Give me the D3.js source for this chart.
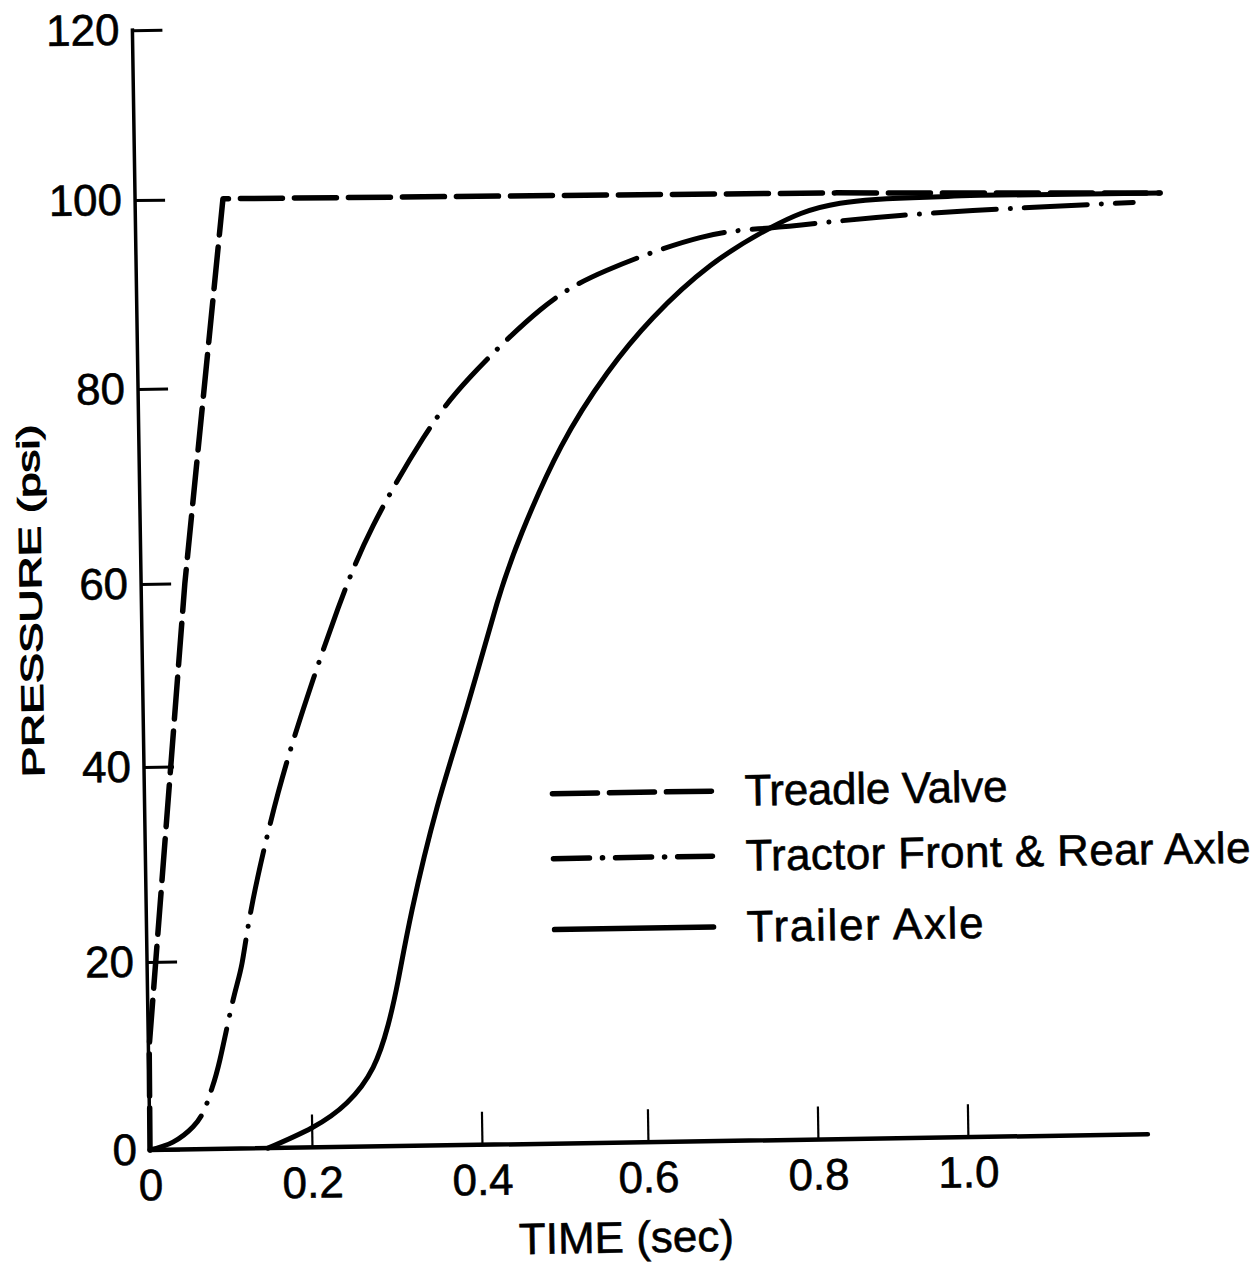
<!DOCTYPE html>
<html>
<head>
<meta charset="utf-8">
<script src="https://cdn.jsdelivr.net/npm/d3@7"></script>
<style>
  html, body { margin: 0; padding: 0; background: #fff; }
  svg { display: block; }
</style>
</head>
<body>
<svg id="chart" width="1260" height="1263"></svg>
<script>
// Air-brake pressure build-up after a treadle application

// Axis ticks
const timeTicks = [0, 0.2, 0.4, 0.6, 0.8, 1.0];
const timeTickLabels = ["0", "0.2", "0.4", "0.6", "0.8", "1.0"];
const pressureTicks = [0, 20, 40, 60, 80, 100, 120];
const pressureTickLabels = ["0", "20", "40", "60", "80", "100", "120"];
const timeAxisEnd = 1.24;

// Series (time in sec, pressure in psi)
const seriesNames = ["Treadle Valve", "Tractor Front & Rear Axle", "Trailer Axle"];

const treadleTime = [0, 0.001, 0.054, 0.1085, 0.845, 1.276];
const treadlePsi  = [0, 11, 60, 100, 99.6, 99.05];

const tractorTime = [0, 0.0285, 0.0536, 0.0662, 0.0726, 0.0778, 0.0881, 0.1054, 0.1172, 0.132,
                     0.165, 0.2025, 0.2406, 0.2833, 0.3438, 0.4001, 0.4858, 0.5672, 0.678, 0.7606,
                     0.8448, 0.929, 1.026, 1.129, 1.24];
const tractorPsi  = [0, 0.8, 2.4, 3.9, 5.2, 6.5, 9.5, 15.8, 19.7, 26.2,
                     37.1, 47.3, 57.0, 65.6, 74.5, 80.7, 87.7, 91.8, 95.1, 96.0,
                     96.6, 97.1, 97.5, 97.8, 98.1];

const trailerTime = [0.1457, 0.2004, 0.242, 0.2733, 0.2918, 0.3044, 0.3221, 0.3534, 0.3906, 0.4284,
                     0.4599, 0.5084, 0.5653, 0.6212, 0.6893, 0.7606, 0.8492, 0.9733, 1.036, 1.276];
const trailerPsi  = [0, 2.1, 4.7, 8.4, 12.9, 17.6, 24.9, 35.4, 46.0, 57.3,
                     64.7, 73.4, 80.9, 86.7, 92.1, 96.0, 98.5, 99.0, 99.1, 99.05];

// ---- layout ----
const FONT = "'Liberation Sans', Arial, sans-serif";
const originX = 150, originY = 1150;
const tilt = -0.9;   // the whole plate sits slightly rotated

// hand-lettered tick spacing is slightly uneven, so the scales are piecewise
const x = d3.scaleLinear()
  .domain(timeTicks)
  .range([0, 162, 332, 498, 668, 818].map(d => originX + d));
const y = d3.scaleLinear()
  .domain(pressureTicks)
  .range([0, 188, 383, 566, 761, 950, 1120].map(d => originY - d));

const svg = d3.select("#chart");
svg.append("rect").attr("width", 1260).attr("height", 1263).attr("fill", "#fff");

const plot = svg.append("g")
  .attr("transform", `rotate(${tilt} ${originX} ${originY})`);

// ---- axes ----
const xAxis = d3.axisBottom(x)
  .tickValues(timeTicks)
  .tickFormat((d, i) => timeTickLabels[i])
  .tickSizeInner(-33)
  .tickSizeOuter(0)
  .tickPadding(19);
const gx = plot.append("g")
  .attr("transform", `translate(0,${originY})`)
  .call(xAxis);
gx.select(".domain").remove();
gx.selectAll(".tick line").attr("stroke", "#000").attr("stroke-width", 2.2);
gx.selectAll(".tick text")
  .attr("fill", "#000").attr("font-size", 44).attr("font-family", FONT)
  .attr("stroke", "#000").attr("stroke-width", 0.6);

const yAxis = d3.axisLeft(y)
  .tickValues(pressureTicks)
  .tickFormat((d, i) => pressureTickLabels[i])
  .tickSizeInner(-30)
  .tickSizeOuter(0)
  .tickPadding(13);
const gy = plot.append("g")
  .attr("transform", `translate(${originX},0)`)
  .call(yAxis);
gy.select(".domain").remove();
gy.selectAll(".tick line").attr("stroke", "#000").attr("stroke-width", 3);
gy.selectAll(".tick text")
  .attr("fill", "#000").attr("font-size", 44).attr("font-family", FONT)
  .attr("stroke", "#000").attr("stroke-width", 0.6);

plot.append("line")
  .attr("x1", x(0)).attr("x2", x(timeAxisEnd))
  .attr("y1", y(0)).attr("y2", y(0))
  .attr("stroke", "#000").attr("stroke-width", 4.5).attr("stroke-linecap", "round");
plot.append("line")
  .attr("x1", x(0)).attr("x2", x(0))
  .attr("y1", y(0)).attr("y2", y(120))
  .attr("stroke", "#000").attr("stroke-width", 3.5).attr("stroke-linecap", "square");

// axis titles
plot.append("text")
  .attr("x", 625).attr("y", 1260)
  .attr("text-anchor", "middle")
  .attr("font-family", FONT).attr("font-size", 44).attr("fill", "#000")
  .attr("stroke", "#000").attr("stroke-width", 0.6)
  .text("TIME (sec)");
plot.append("text")
  .attr("transform", "translate(50,599) rotate(-90)")
  .attr("text-anchor", "middle")
  .attr("font-family", FONT).attr("font-size", 31).attr("fill", "#000")
  .attr("stroke", "#000").attr("stroke-width", 1.1)
  .attr("textLength", 353).attr("lengthAdjust", "spacingAndGlyphs")
  .text("PRESSURE (psi)");

// ---- curves ----
const zip = (ts, ps) => ts.map((t, i) => [t, ps[i]]);
const smooth = d3.curveNatural;
const series = [
  { name: seriesNames[0], data: zip(treadleTime, treadlePsi), curve: d3.curveLinear,
    dash: "42,12", legendDash: "45,12", width: 5.5 },
  { name: seriesNames[1], data: zip(tractorTime, tractorPsi), curve: smooth,
    dash: "63,14,0.1,14", legendDash: "36,13,0.1,13", width: 5 },
  { name: seriesNames[2], data: zip(trailerTime, trailerPsi), curve: smooth,
    dash: null, legendDash: null, width: 5 }
];

series.forEach(s => {
  const line = d3.line().curve(s.curve).x(d => x(d[0])).y(d => y(d[1]));
  plot.append("path")
    .datum(s.data)
    .attr("d", line)
    .attr("fill", "none")
    .attr("stroke", "#000")
    .attr("stroke-width", s.width)
    .attr("stroke-linecap", "round")
    .attr("stroke-linejoin", "round")
    .attr("stroke-dasharray", s.dash);
});

// ---- legend ----
const legendRowsY = [800, 865, 936];
const legendTextWidths = [263, 505, 237];
const legend = plot.append("g");
series.forEach((s, i) => {
  const ly = legendRowsY[i];
  legend.append("line")
    .attr("x1", 558).attr("x2", 717)
    .attr("y1", ly).attr("y2", ly)
    .attr("stroke", "#000").attr("stroke-width", 5.5)
    .attr("stroke-linecap", "round")
    .attr("stroke-dasharray", s.legendDash);
  legend.append("text")
    .attr("x", 750).attr("y", ly + 15)
    .attr("font-family", FONT).attr("font-size", 44).attr("fill", "#000")
    .attr("stroke", "#000").attr("stroke-width", 0.6)
    .attr("textLength", legendTextWidths[i]).attr("lengthAdjust", "spacing")
    .text(s.name);
});
</script>
</body>
</html>
